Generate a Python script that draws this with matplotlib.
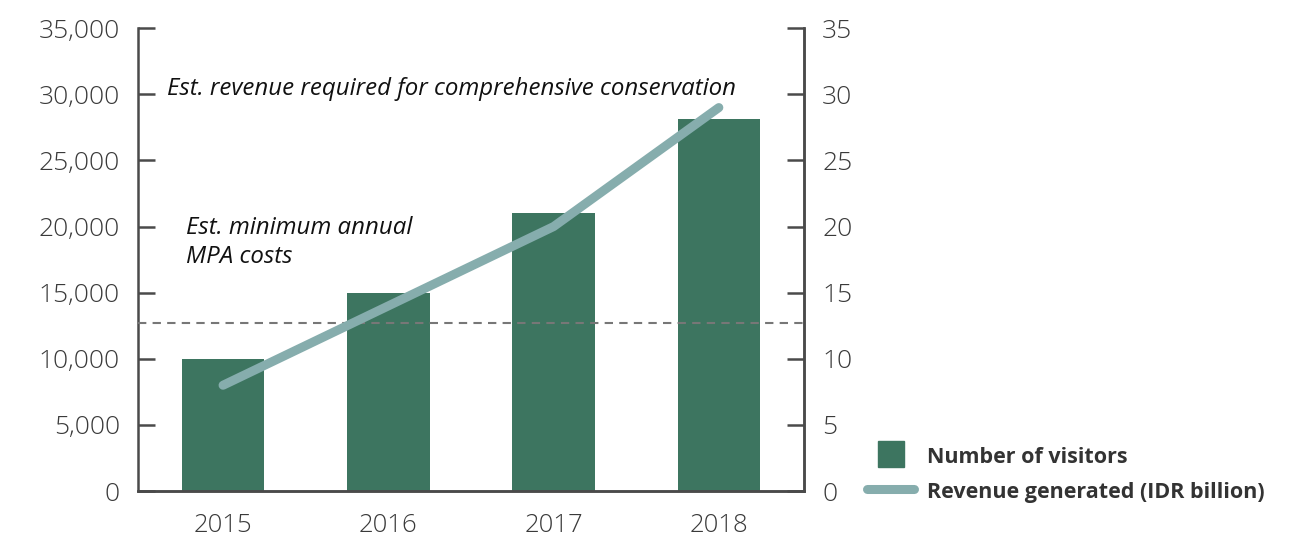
import numpy as np
import matplotlib.pyplot as plt
import matplotlib
from matplotlib.lines import Line2D

years = ["2015", "2016", "2017", "2018"]
visitors = [10000, 15000, 21000, 28100]
revenue = [8, 14, 20, 29]  # IDR billion
min_cost = 12.7  # est. minimum annual MPA costs (IDR billion)

matplotlib.rcParams['font.family'] = ['Open Sans', 'DejaVu Sans']

bar_color = "#3d7560"
line_color = "#86adad"
axis_color = "#4a4a4a"

fig = plt.figure(figsize=(13.1, 5.4), dpi=100)
ax = fig.add_axes([0.1053, 0.0907, 0.5084, 0.857])
ax2 = ax.twinx()

x = np.arange(len(years))
ax.bar(x, visitors, width=0.5, color=bar_color, zorder=2)
ax2.plot(x, revenue, color=line_color, lw=6.5, solid_capstyle="round",
         solid_joinstyle="round", zorder=3)
ax2.axhline(min_cost, color="#777777", lw=1.5, ls=(0, (4, 3)), zorder=1)

ax.set_xlim(-0.515, 3.515)
ax.set_ylim(0, 35000)
ax2.set_ylim(0, 35)
ax.set_yticks(range(0, 35001, 5000))
ax.set_yticklabels([f"{v:,}" for v in range(0, 35001, 5000)])
ax2.set_yticks(range(0, 36, 5))
ax.set_xticks(x)
ax.set_xticklabels(years)

for a in (ax, ax2):
    for s in a.spines.values():
        s.set_color(axis_color)
        s.set_linewidth(1.8)
    a.spines["top"].set_visible(False)
ax.spines["right"].set_visible(True)
ax2.spines["left"].set_visible(False)

ax.tick_params(axis="y", direction="in", length=12, width=1.8, color=axis_color,
               pad=13, labelsize=19, labelcolor="#3a3a3a")
ax2.tick_params(axis="y", direction="in", length=12, width=1.8, color=axis_color,
                pad=13, labelsize=19, labelcolor="#3a3a3a")
ax.tick_params(axis="x", length=0, pad=16, labelsize=18.5, labelcolor="#3a3a3a")
for lbl in ax.get_yticklabels() + ax2.get_yticklabels() + ax.get_xticklabels():
    lbl.set_fontweight("light")

ax.set_zorder(1)
ax.patch.set_visible(False)
ax2.set_zorder(2)

ax2.text(-0.34, 30.4, "Est. revenue required for comprehensive conservation",
         fontsize=17.3, style="italic", color="#111111", va="center", ha="left")
ax2.text(-0.225, 18.8, "Est. minimum annual\nMPA costs", fontsize=17.3,
         style="italic", color="#111111", va="center", ha="left", linespacing=1.3)

handles = [Line2D([], [], marker="s", ms=19, ls="", color=bar_color),
           Line2D([0], [0], color=line_color, lw=6.5, solid_capstyle="round")]
leg = fig.legend(handles, ["Number of visitors", "Revenue generated (IDR billion)"],
                 loc="lower left", bbox_to_anchor=(0.647, 0.033), frameon=False,
                 prop={"size": 15.5, "weight": "bold"}, handlelength=2.2,
                 handleheight=1.2, labelspacing=0.55, handletextpad=0.6)
for t in leg.get_texts():
    t.set_color("#333333")

plt.savefig("out.png", dpi=100)
